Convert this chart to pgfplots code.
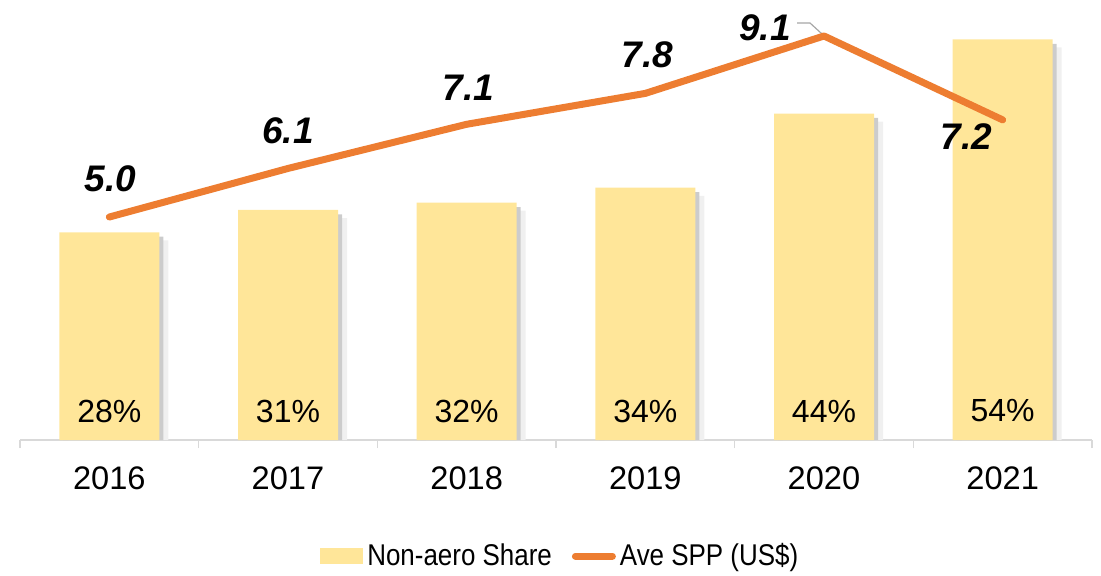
\documentclass[border=0pt]{standalone}
\usepackage{fontspec}
\setmainfont{Liberation Sans}
\newfontfamily\legfont[FakeStretch=0.865]{Liberation Sans}
\usepackage{pgfplots}
\usepackage{pgfplotstable}
\pgfplotsset{compat=1.18}
\definecolor{barc}{HTML}{FFE699}
\definecolor{linec}{HTML}{ED7D31}
\definecolor{axc}{HTML}{D9D9D9}

\pgfplotstableread{
x share spp
0 28 5.0
1 31 6.1
2 32 7.1
3 34 7.8
4 44 9.1
5 54 7.2
}\data

\begin{document}
\begin{tikzpicture}
\useasboundingbox (0,0) rectangle (550.5pt,287.5pt);
% bars: Non-aero share
\begin{axis}[
  at={(10pt,67.5pt)}, anchor=south west,
  scale only axis, width=536pt, height=220pt,
  xmin=-0.5, xmax=5.5, ymin=0, ymax=59.3,
  axis y line=none, axis x line*=bottom,
  x axis line style={axc, line width=0.75pt},
  xtick={0,...,5}, xticklabels={2016,2017,2018,2019,2020,2021},
  major x tick style={draw=none},
  minor xtick={-0.5,0.5,...,5.5},
  minor x tick style={axc, line width=0.75pt},
  minor tick length=4pt, tick align=outside,
  xticklabel style={font=\fontsize{16.3}{18}\selectfont, anchor=base, yshift=-20.3pt},
  ybar, bar width=50pt,
  clip=false,
]
\addplot[fill=gray!12, draw=none, bar shift=4.5pt] table[x=x, y expr=\thisrow{share}-1.1]{\data};
\addplot[fill=gray!40, draw=none, bar shift=2pt] table[x=x, y expr=\thisrow{share}-0.6]{\data};
\addplot[fill=barc, draw=none, bar shift=0pt] table[x=x, y=share]{\data};
\begin{scope}[every node/.style={font=\fontsize{16}{18}\selectfont}]
\node at (axis cs:0,0) [yshift=14.5pt] {28\%};
\node at (axis cs:1,0) [yshift=14.5pt] {31\%};
\node at (axis cs:2,0) [yshift=14.5pt] {32\%};
\node at (axis cs:3,0) [yshift=14.5pt] {34\%};
\node at (axis cs:4,0) [yshift=14.5pt] {44\%};
\node at (axis cs:5,0) [yshift=14.5pt] {54\%};
\end{scope}
\end{axis}
% line: Ave SPP
\begin{axis}[
  at={(10pt,67.5pt)}, anchor=south west,
  scale only axis, width=536pt, height=220pt,
  xmin=-0.5, xmax=5.5, ymin=-0.05, ymax=9.915,
  axis lines=none, ticks=none,
  clip=false,
  legend style={at={(0.505,-0.264)}, anchor=center, draw=none, fill=none,
    legend columns=2, font=\legfont\fontsize{15}{17}\selectfont,
    /tikz/every even column/.append style={column sep=8pt}},
]
\addlegendimage{legend image code/.code={\fill[barc] (0pt,-3.75pt) rectangle (21pt,3.75pt);}}
\addlegendentry{Non-aero Share}
\draw[gray!70, line width=0.6pt] ([shift={(-13.5pt,6.5pt)}]axis cs:4,9.1) -- ([shift={(-7pt,6.5pt)}]axis cs:4,9.1) -- ([shift={(-1pt,1pt)}]axis cs:4,9.1);
\addplot[linec, line width=3.5pt, line cap=round, line join=round,
  legend image code/.code={\draw[linec, line width=3.5pt, line cap=round] (1.5pt,0pt) -- (20pt,0pt);}]
  table[x=x, y=spp]{\data};
\addlegendentry{Ave SPP (US\$)}
\begin{scope}[every node/.style={font=\bfseries\itshape\fontsize{18.5}{21}\selectfont}]
\node at (axis cs:0,5.0) [xshift=0.5pt, yshift=19pt] {5.0};
\node at (axis cs:1,6.1) [yshift=19pt] {6.1};
\node at (axis cs:2,7.1) [xshift=1pt, yshift=18.5pt] {7.1};
\node at (axis cs:3,7.8) [xshift=1pt, yshift=19.5pt] {7.8};
\node at (axis cs:4,9.1) [xshift=-29.5pt, yshift=4pt] {9.1};
\node at (axis cs:5,7.2) [xshift=-18pt, yshift=-8.5pt] {7.2};
\end{scope}
\end{axis}
\end{tikzpicture}
\end{document}
